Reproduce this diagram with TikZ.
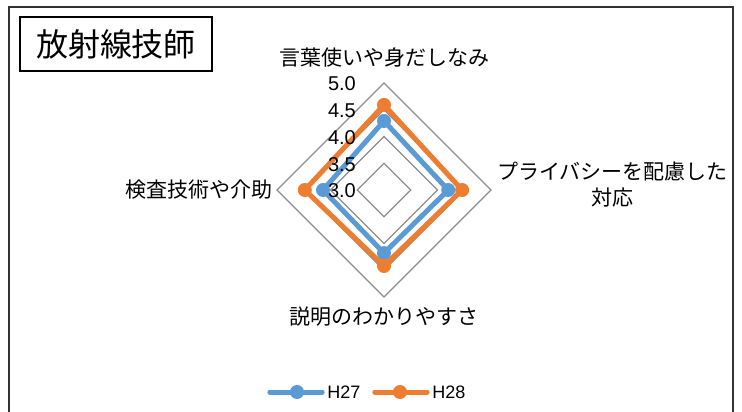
\documentclass[tikz,border=0pt]{standalone}
\usepackage{fontspec}
\setmainfont{Noto Sans CJK JP}
\newfontfamily\numfont{Liberation Sans}
\usetikzlibrary{positioning}
\definecolor{h27}{HTML}{5B9BD5}
\definecolor{h28}{HTML}{ED7D31}
\definecolor{ringgray}{HTML}{8C8C8C}
\tikzset{
	x=1pt, y=1pt,
}
\begin{document}
\begin{tikzpicture}[
	ringline/.style = {draw=ringgray, line width=1.2pt},
	blueline/.style = {draw=h27, line width=5pt, line join=round},
	orangeline/.style = {draw=h28, line width=5pt, line join=round},
	blueball/.style = {circle, fill=h27, minimum size=14pt, inner sep=0},
	orangeball/.style = {circle, fill=h28, minimum size=14pt, inner sep=0},
	catlabel/.style = {font=\fontsize{21}{26}\selectfont, inner sep=0, align=center},
	ticklabel/.style = {font=\numfont\fontsize{20}{22}\selectfont, inner sep=0, anchor=east},
	legendlabel/.style = {font=\numfont\fontsize{18}{22}\selectfont, inner sep=0}]
\useasboundingbox (0,0) rectangle (742,-412);
\draw[line width=1.5pt, draw=black!80] (9,-430) -- (9,-7) -- (733,-7) -- (733,-430);
\node[draw, line width=1.2pt, minimum width=192pt, minimum height=54pt, inner sep=0,
	font=\fontsize{32}{36}\selectfont] (title) at (116,-44) {放射線技師};
\begin{scope}[shift={(384,-190)}]
\foreach \r in {26.75,53.5,80.25,107}
	\draw[ringline] (90:\r) -- (0:\r) -- (-90:\r) -- (180:\r) -- cycle;
\coordinate (center) at (0,0);
\node[catlabel] (words) at (0,132) {言葉使いや身だしなみ};
\node[catlabel, anchor=west] (privacy) at (113,5) {プライバシーを配慮した\\対応};
\node[catlabel] (explain) at (0,-127) {説明のわかりやすさ};
\node[catlabel, anchor=east] (skill) at (-111,0) {検査技術や介助};
\coordinate (bluetop) at (0,{(4.29-3)*53.5});
\coordinate (blueright) at ({(4.2-3)*53.5},0);
\coordinate (bluebottom) at (0,{-(4.18-3)*53.5});
\coordinate (blueleft) at ({-(4.14-3)*53.5},0);
\draw[blueline] (bluetop) -- (blueright) -- (bluebottom) -- (blueleft) -- cycle;
\foreach \p in {bluetop,blueright,bluebottom,blueleft}
	\node[blueball] at (\p) {};
\coordinate (orangetop) at (0,{(4.59-3)*53.5});
\coordinate (orangeright) at ({(4.46-3)*53.5},0);
\coordinate (orangebottom) at (0,{-(4.42-3)*53.5});
\coordinate (orangeleft) at ({-(4.48-3)*53.5},0);
\draw[orangeline] (orangetop) -- (orangeright) -- (orangebottom) -- (orangeleft) -- cycle;
\foreach \p in {orangetop,orangeright,orangebottom,orangeleft}
	\node[orangeball] at (\p) {};
\node[ticklabel] (t50) at (-28,106) {5.0};
\node[ticklabel] (t45) at (-28,79.25) {4.5};
\node[ticklabel] (t40) at (-28,52.5) {4.0};
\node[ticklabel] (t35) at (-28,25.75) {3.5};
\node[ticklabel] (t30) at (-28,-1) {3.0};
\end{scope}
\node[blueball] (h27point) at (297,-392) {};
\coordinate[left=20pt of h27point] (h27start);
\coordinate[right=18pt of h27point] (h27end);
\draw[blueline, line cap=round] (h27start) -- (h27end);
\node[legendlabel, right=5pt of h27end] (h27) {H27};
\node[orangeball] (h28point) at (400,-392) {};
\coordinate[left=18pt of h28point] (h28start);
\coordinate[right=20pt of h28point] (h28end);
\draw[orangeline, line cap=round] (h28start) -- (h28end);
\node[legendlabel, right=5pt of h28end] (h28) {H28};
\end{tikzpicture}
\end{document}
